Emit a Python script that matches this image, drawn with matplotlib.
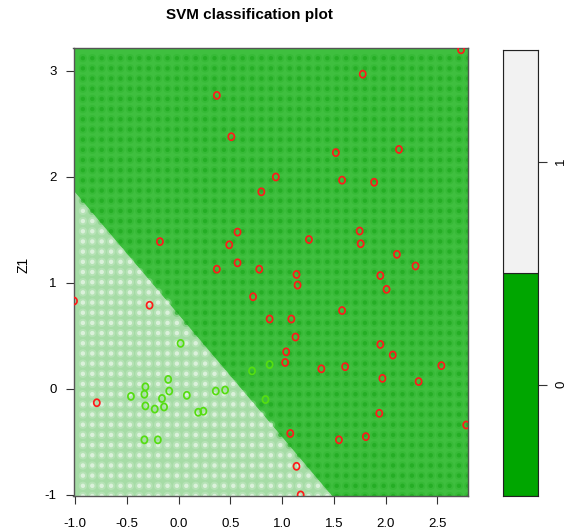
import numpy as np
import matplotlib
matplotlib.use('Agg')
import matplotlib.pyplot as plt
from matplotlib.path import Path

plt.rcParams['font.family'] = ['Liberation Sans', 'DejaVu Sans']

# ---------------- data ----------------
title = "SVM classification plot"
ylabel = "Z1"
x_range = [-1.015, 2.80]
y_range = [-1.01, 3.217]
boundary_intercept = 0.70     # decision boundary: y = a + b*x
boundary_slope = -1.154
class_labels = ['0', '1']
xticks = [-1.0, -0.5, 0.0, 0.5, 1.0, 1.5, 2.0, 2.5]
yticks = [-1, 0, 1, 2, 3]

red_x = [2.73, 1.78, 0.37, 0.51, 1.52, 2.13, 0.94, 1.58, 1.89, 0.80,
         -0.18, 0.57, 0.49, 1.26, 1.75, 1.76, 2.11, 2.29, 0.57, 0.37,
         0.78, 1.14, 1.15, 1.95, 2.01, -1.01, -0.28, 0.72, 1.58, 0.88,
         1.09, 1.13, 1.95, 1.04, 1.03, 1.38, 1.61, 2.07, 2.54, 1.97,
         2.32, -0.79, 1.94, 1.08, 2.78, 1.55, 1.81, 1.14, 1.18]
red_y = [3.20, 2.97, 2.77, 2.38, 2.23, 2.26, 2.00, 1.97, 1.95, 1.86,
         1.39, 1.48, 1.36, 1.41, 1.49, 1.37, 1.27, 1.16, 1.19, 1.13,
         1.13, 1.08, 0.98, 1.07, 0.94, 0.83, 0.79, 0.87, 0.74, 0.66,
         0.66, 0.49, 0.42, 0.35, 0.25, 0.19, 0.21, 0.32, 0.22, 0.10,
         0.07, -0.13, -0.23, -0.42, -0.34, -0.48, -0.45, -0.73, -1.00]

green_x = [0.02, -0.10, -0.32, -0.33, -0.46, -0.09, 0.08, -0.16, -0.32, -0.23,
           -0.14, 0.19, 0.24, 0.36, 0.45, -0.33, -0.20, 0.71, 0.88, 0.84]
green_y = [0.43, 0.09, 0.02, -0.05, -0.07, -0.02, -0.06, -0.09, -0.16, -0.19,
           -0.17, -0.22, -0.21, -0.02, -0.01, -0.48, -0.48, 0.17, 0.23, -0.10]

region_colors = ['#a6dca6', '#3fbf3f']   # class 1 (light), class 0 (green)
dot_colors = ['#f6fcf6', '#1aa61a']
key_colors = ['#00A600', '#F2F2F2']
red_col = '#ff1a1a'
green_col = '#55dd11'

# ---------------- figure ----------------
fig = plt.figure(figsize=(5.7, 5.3), dpi=100)
ax = fig.add_axes([73.5 / 570, 34 / 530, 394.8 / 570, 448 / 530])

xs = np.linspace(x_range[0], x_range[1], 500)
ys = np.linspace(y_range[0], y_range[1], 500)
X, Y = np.meshgrid(xs, ys)
Z = Y - (boundary_intercept + boundary_slope * X)
ax.contourf(X, Y, Z, levels=[-100, 0, 100], colors=region_colors, antialiased=True)

# dotted texture of the prediction grid
nx, ny = 42, 44
dx = (x_range[1] - x_range[0]) / nx
dy = (y_range[1] - y_range[0]) / ny
gx = x_range[0] + dx * np.arange(1, nx + 1)
gy = y_range[1] - dy * np.arange(1, ny + 1)
GX, GY = np.meshgrid(gx, gy)
GX = GX.ravel(); GY = GY.ravel()
side = (GY - (boundary_intercept + boundary_slope * GX)) > 0
cols = np.array([dot_colors[1] if s else dot_colors[0] for s in side])
ax.scatter(GX, GY, s=36, c=cols, alpha=0.2, linewidths=0, zorder=2)
ax.scatter(GX, GY, s=10, c=cols, alpha=0.6, linewidths=0, zorder=2)

# letter-like "o" marker: slightly tall ellipse outline
t = np.linspace(0, 2 * np.pi, 41)
o_marker = Path(np.column_stack([0.86 * np.cos(t), np.sin(t)]), closed=True)
ax.scatter(red_x, red_y, marker=o_marker, s=26, facecolors='none',
           edgecolors=red_col, linewidths=1.25, zorder=4)
ax.scatter(green_x, green_y, marker=o_marker, s=26, facecolors='none',
           edgecolors=green_col, linewidths=1.25, zorder=4)

ax.set_xlim(x_range)
ax.set_ylim(y_range)
ax.set_xticks(xticks)
ax.set_xticklabels(['%.1f' % v for v in xticks])
ax.set_yticks(yticks)
ax.set_yticklabels([str(v) for v in yticks])
ax.tick_params(axis='both', direction='out', length=5.8, width=0.8,
               color='#333333', labelsize=9.5)
ax.tick_params(axis='x', pad=10)
ax.tick_params(axis='y', pad=6.5)
for sp in ax.spines.values():
    sp.set_color('#555555')
    sp.set_linewidth(1.0)

# ---------------- key ----------------
kax = fig.add_axes([503 / 570, 34 / 530, 35 / 570, 446 / 530])
levels = np.arange(len(class_labels) + 1)
kax.bar([0] * len(class_labels), np.diff(levels), bottom=levels[:-1],
        width=1.0, color=key_colors, edgecolor='#222222', linewidth=0.8)
kax.set_xlim(-0.5, 0.5)
kax.set_ylim(levels[0], levels[-1])
kax.set_xticks([])
kax.yaxis.tick_right()
kax.set_yticks(levels[:-1] + 0.5)
kax.set_yticklabels(class_labels, rotation=90, va='center')
kax.tick_params(axis='y', direction='out', length=6.5, width=0.8,
                color='#333333', labelsize=9.5, pad=6)
for sp in kax.spines.values():
    sp.set_color('#222222')
    sp.set_linewidth(0.8)

fig.text(249 / 570, 1 - 15 / 530, title, ha='center', va='center',
         fontsize=11, fontweight='bold')
fig.text(23 / 570, 1 - 265 / 530, ylabel, ha='center', va='center',
         rotation=90, fontsize=10)

fig.savefig('out.png', dpi=100)
